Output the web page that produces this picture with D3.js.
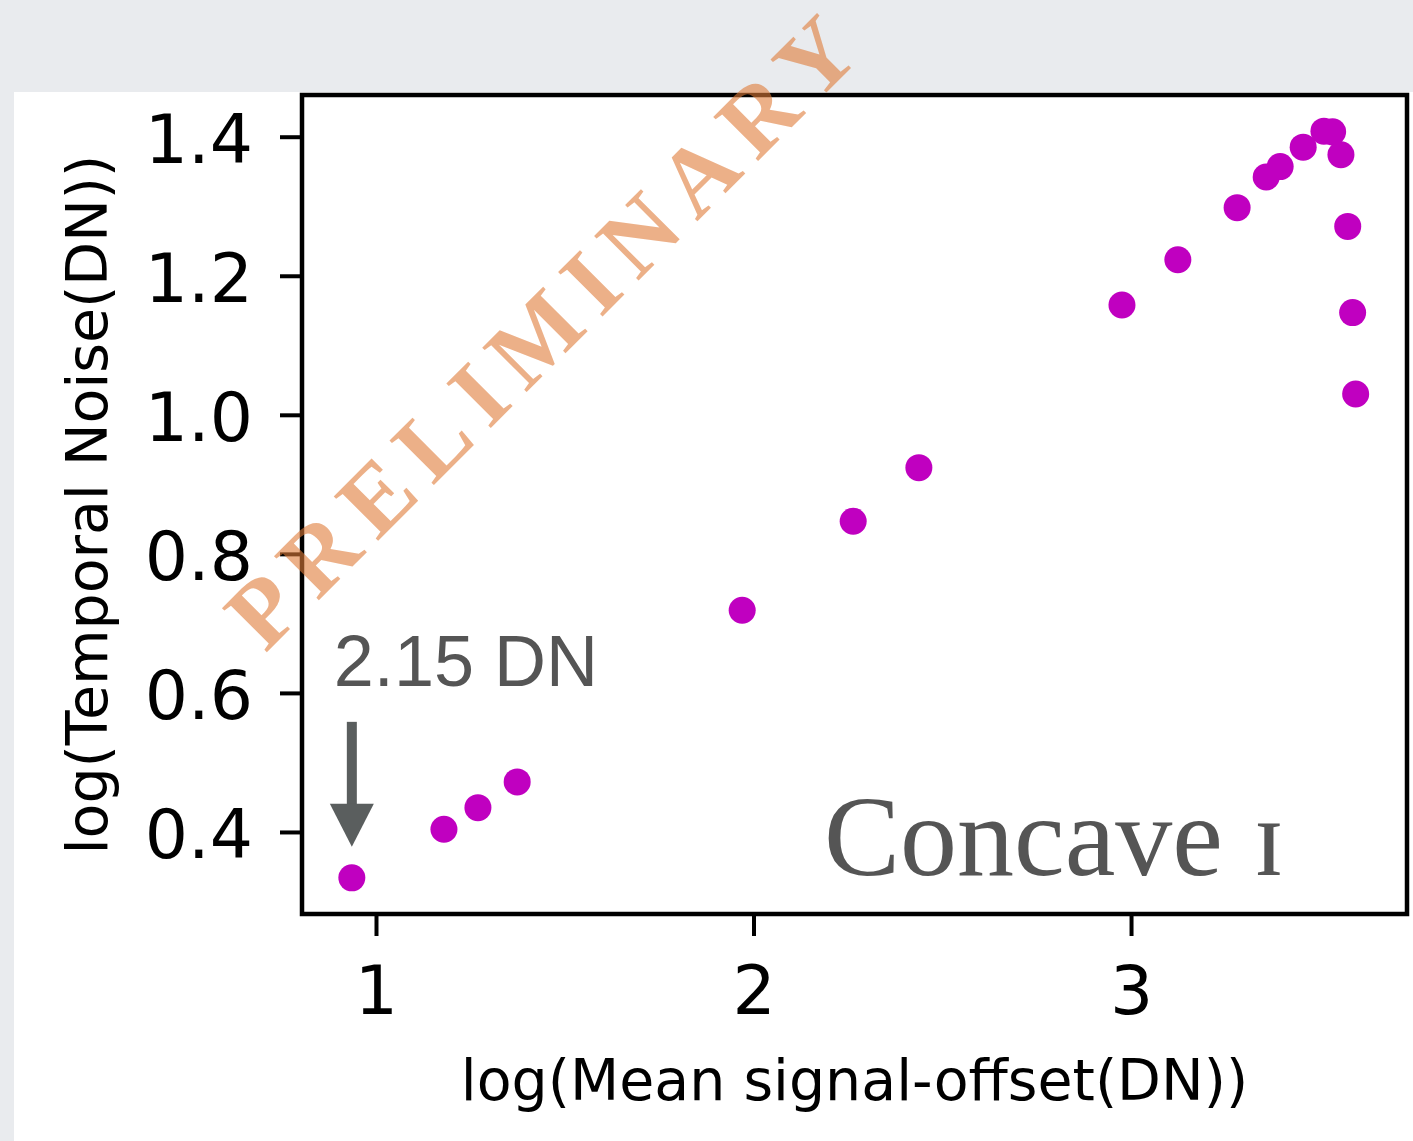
<!DOCTYPE html>
<html>
<head>
	<title>Concave I</title>
	<meta charset="utf-8">
	<style type="text/css">
		body { margin: 0; background-color: #e9ebee; }
		svg { display: block; }
	</style>
	<script src="https://d3js.org/d3.v7.min.js"></script>
</head>
<body>
	<div class="div1"></div>
	<script type="text/javascript">

		// log(Mean signal-offset(DN)) and log(Temporal Noise(DN))
		var signal_x = [0.936, 1.180, 1.270, 1.374, 1.970, 2.264, 2.438, 2.976, 3.124, 3.281,
		                3.358, 3.395, 3.456, 3.511, 3.534, 3.556, 3.574, 3.587, 3.595];
		var noise_y  = [0.334, 0.404, 0.435, 0.472, 0.719, 0.847, 0.924, 1.158, 1.223, 1.298,
		                1.342, 1.357, 1.385, 1.408, 1.407, 1.374, 1.271, 1.147, 1.030];

		var x_ticks = [1, 2, 3];
		var y_ticks = [0.4, 0.6, 0.8, 1.0, 1.2, 1.4];
		var x_domain = [0.804, 3.731];
		var y_domain = [0.282, 1.460];

		var svgDims = {width: 1413, height: 1141};
		var margin = {top: 95, right: 6, bottom: 227, left: 302};
		var width = svgDims.width - margin.left - margin.right;
		var height = svgDims.height - margin.top - margin.bottom;

		var svg = d3.select(".div1")
					.append("svg")
					.attr("width", svgDims.width)
					.attr("height", svgDims.height);

		// white slide panel
		svg.append("rect")
			.attr("x", 14)
			.attr("y", 92)
			.attr("width", svgDims.width - 14)
			.attr("height", svgDims.height - 92)
			.attr("fill", "#ffffff");

		var g = svg.append("g")
					.attr("transform", "translate(" + margin.left + "," + margin.top + ")");

		var x_scale = d3.scaleLinear().domain(x_domain).range([0, width]);
		var y_scale = d3.scaleLinear().domain(y_domain).range([height, 0]);

		var x_axis = d3.axisBottom(x_scale)
						.tickValues(x_ticks)
						.tickFormat(d3.format("d"))
						.tickSize(22)
						.tickPadding(30);

		var y_axis = d3.axisLeft(y_scale)
						.tickValues(y_ticks)
						.tickFormat(d3.format(".1f"))
						.tickSize(22)
						.tickPadding(27);

		var gx = g.append("g")
			.attr("transform", "translate(0," + height + ")")
			.call(x_axis);

		var gy = g.append("g")
			.call(y_axis);

		[gx, gy].forEach(function(ax){
			ax.select(".domain").remove();
			ax.selectAll(".tick line").attr("stroke", "#000").attr("stroke-width", 4);
			ax.selectAll(".tick text")
				.attr("fill", "#000")
				.style("font-family", "'DejaVu Sans'")
				.style("font-size", "68px");
		});
		gy.selectAll(".tick text").attr("dy", "0.38em");

		// frame
		g.append("rect")
			.attr("x", 0)
			.attr("y", 0)
			.attr("width", width)
			.attr("height", height)
			.attr("fill", "none")
			.attr("stroke", "#000")
			.attr("stroke-width", 4.5);

		// axis titles
		g.append("text")
			.attr("x", width / 2)
			.attr("y", 1100 - margin.top)
			.attr("text-anchor", "middle")
			.style("font-family", "'DejaVu Sans'")
			.style("font-size", "57px")
			.text("log(Mean signal-offset(DN))");

		g.append("text")
			.attr("transform", "translate(" + (107 - margin.left) + "," + (height / 2) + ") rotate(-90)")
			.attr("text-anchor", "middle")
			.style("font-family", "'DejaVu Sans'")
			.style("font-size", "57px")
			.text("log(Temporal Noise(DN))");

		// points
		var data_datum = signal_x.map(function(d, i){ return {x: d, y: noise_y[i]}; });

		g.selectAll("circle.pt")
			.data(data_datum)
			.enter()
			.append("circle")
			.attr("class", "pt")
			.attr("cx", function(d){ return x_scale(d.x); })
			.attr("cy", function(d){ return y_scale(d.y); })
			.attr("r", 13.5)
			.attr("fill", "#c000c0");

		// arrow + label for the lowest point
		var first = data_datum[0];
		var ax0 = x_scale(first.x);
		var tipY = y_scale(first.y) - 31;
		var arrowCol = "#5a5e5e";

		g.append("rect")
			.attr("x", ax0 - 5)
			.attr("y", tipY - 125)
			.attr("width", 10)
			.attr("height", 84)
			.attr("fill", arrowCol);

		g.append("path")
			.attr("d", "M" + (ax0 - 22) + "," + (tipY - 43) + "L" + (ax0 + 22) + "," + (tipY - 43) + "L" + ax0 + "," + tipY + "Z")
			.attr("fill", arrowCol);

		g.append("text")
			.attr("x", ax0 - 18)
			.attr("y", tipY - 161)
			.attr("fill", "#555555")
			.style("font-family", "'Liberation Sans'")
			.style("font-size", "72px")
			.text("2.15 DN");

		// panel label (small-capital I)
		var lab = g.append("text")
			.attr("x", 824 - margin.left)
			.attr("y", 875 - margin.top)
			.attr("fill", "#555555")
			.style("font-family", "'Liberation Serif'")
			.style("font-size", "114px");
		lab.append("tspan").text("Concave ");
		lab.append("tspan").style("font-size", "112px").attr("dx", 2).text("\u026A");

		// watermark
		svg.append("text")
			.attr("transform", "translate(541,332) rotate(-45)")
			.attr("text-anchor", "middle")
			.attr("dominant-baseline", "central")
			.attr("textLength", 845)
			.attr("lengthAdjust", "spacing")
			.attr("fill", "#e07b39")
			.attr("fill-opacity", 0.6)
			.style("font-family", "'Liberation Serif'")
			.style("font-weight", "bold")
			.style("font-size", "96px")
			.text("PRELIMINARY");

	</script>
</body>
</html>
